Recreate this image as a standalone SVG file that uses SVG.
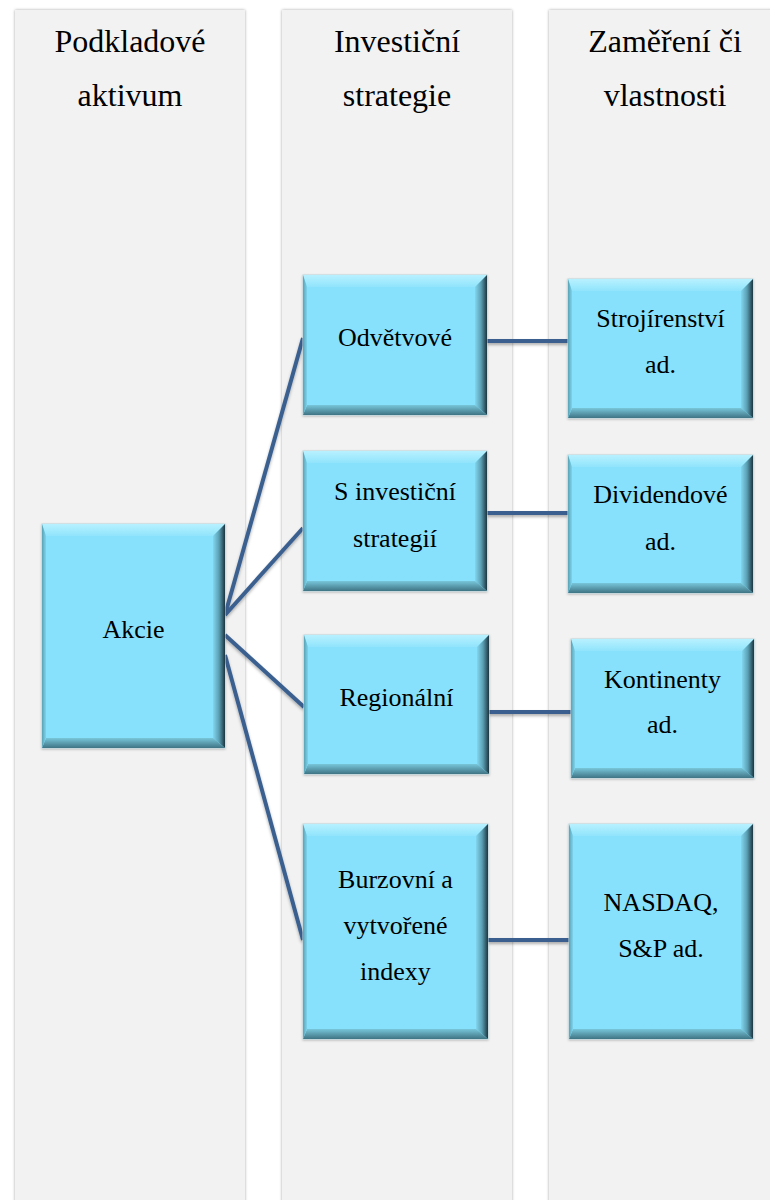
<svg xmlns="http://www.w3.org/2000/svg" width="770" height="1200" viewBox="0 0 770 1200">
<defs>
<filter id="colsh" x="-5%" y="-5%" width="110%" height="110%">
<feDropShadow dx="0" dy="0" stdDeviation="1.6" flood-color="#000" flood-opacity="0.35"/>
</filter>
<filter id="boxsh" x="-5%" y="-5%" width="110%" height="110%">
<feDropShadow dx="0" dy="1" stdDeviation="1.2" flood-color="#000" flood-opacity="0.25"/>
</filter>
<filter id="linesh" x="-10%" y="-50%" width="120%" height="200%">
<feDropShadow dx="0" dy="2" stdDeviation="1.5" flood-color="#000" flood-opacity="0.3"/>
</filter>
<linearGradient id="gTop" x1="0" y1="0" x2="0" y2="1">
<stop offset="0" stop-color="#b8f1ff"/>
<stop offset="1" stop-color="#90e4fc"/>
</linearGradient>
<linearGradient id="gRight" x1="0" y1="0" x2="1" y2="0">
<stop offset="0" stop-color="#82d6ee"/>
<stop offset="0.5" stop-color="#5a9fb3"/>
<stop offset="1" stop-color="#1c3641"/>
</linearGradient>
<linearGradient id="gBottom" x1="0" y1="0" x2="0" y2="1">
<stop offset="0" stop-color="#78c6da"/>
<stop offset="1" stop-color="#3f7484"/>
</linearGradient>
<linearGradient id="gLeft" x1="0" y1="0" x2="1" y2="0">
<stop offset="0" stop-color="#5aa3b6"/>
<stop offset="1" stop-color="#7ed3ec"/>
</linearGradient>
</defs>
<style>
.col{fill:#f2f2f2;filter:url(#colsh)}
.hdr{font-family:"Liberation Serif","Times New Roman",serif;font-size:32px;fill:#000;text-anchor:middle}
.lbl{font-family:"Liberation Serif","Times New Roman",serif;font-size:26px;fill:#000;text-anchor:middle}
.face{fill:#88e1fc;stroke:#b9d3dc;stroke-width:1;filter:url(#boxsh)}
.bt{fill:url(#gTop)}
.br{fill:url(#gRight)}
.bb{fill:url(#gBottom)}
.bl{fill:url(#gLeft)}
.conn line{stroke:#3a6190;stroke-width:4;fill:none}
</style>
<rect width="770" height="1200" fill="#ffffff"/>

<g id="columns">
<rect class="col" x="15" y="10" width="230" height="1210"/>
<rect class="col" x="282" y="10" width="230" height="1210"/>
<rect class="col" x="549" y="10" width="232" height="1210"/>
<text class="hdr" x="130" y="52">Podkladové</text>
<text class="hdr" x="130" y="106">aktivum</text>
<text class="hdr" x="397" y="52">Investiční</text>
<text class="hdr" x="397" y="106">strategie</text>
<text class="hdr" x="665" y="52">Zaměření či</text>
<text class="hdr" x="665" y="106">vlastnosti</text>
</g>

<g id="connectors" class="conn" filter="url(#linesh)">
<line x1="225" y1="615" x2="303" y2="338"/>
<line x1="225" y1="615" x2="303" y2="528"/>
<line x1="225" y1="635" x2="304" y2="707"/>
<line x1="225" y1="655" x2="303" y2="940"/>
<line x1="487" y1="341" x2="568" y2="341"/>
<line x1="487" y1="513" x2="568" y2="513"/>
<line x1="489" y1="712" x2="571" y2="712"/>
<line x1="488" y1="940" x2="569" y2="940"/>
</g>

<g id="node-akcie">
<rect class="face" x="42" y="524" width="183" height="224"/>
<polygon class="bt" points="42,524 225,524 213,536 46,536"/>
<polygon class="br" points="225,524 225,748 213,738 213,536"/>
<polygon class="bb" points="42,748 225,748 213,738 46,738"/>
<polygon class="bl" points="42,524 46,536 46,738 42,748"/>
<text class="lbl" x="133.5" y="638">Akcie</text>
</g>

<g id="node-odvetvove">
<rect class="face" x="303" y="275" width="184" height="140"/>
<polygon class="bt" points="303,275 487,275 475,287 307,287"/>
<polygon class="br" points="487,275 487,415 475,405 475,287"/>
<polygon class="bb" points="303,415 487,415 475,405 307,405"/>
<polygon class="bl" points="303,275 307,287 307,405 303,415"/>
<text class="lbl" x="395" y="346">Odvětvové</text>
</g>

<g id="node-strategii">
<rect class="face" x="303" y="451" width="184" height="140"/>
<polygon class="bt" points="303,451 487,451 475,463 307,463"/>
<polygon class="br" points="487,451 487,591 475,581 475,463"/>
<polygon class="bb" points="303,591 487,591 475,581 307,581"/>
<polygon class="bl" points="303,451 307,463 307,581 303,591"/>
<text class="lbl" x="395" y="500">S investiční</text>
<text class="lbl" x="395" y="547">strategií</text>
</g>

<g id="node-regionalni">
<rect class="face" x="304" y="635" width="185" height="139"/>
<polygon class="bt" points="304,635 489,635 477,647 308,647"/>
<polygon class="br" points="489,635 489,774 477,764 477,647"/>
<polygon class="bb" points="304,774 489,774 477,764 308,764"/>
<polygon class="bl" points="304,635 308,647 308,764 304,774"/>
<text class="lbl" x="396.5" y="706">Regionální</text>
</g>

<g id="node-burzovni">
<rect class="face" x="303" y="824" width="185" height="215"/>
<polygon class="bt" points="303,824 488,824 476,836 307,836"/>
<polygon class="br" points="488,824 488,1039 476,1029 476,836"/>
<polygon class="bb" points="303,1039 488,1039 476,1029 307,1029"/>
<polygon class="bl" points="303,824 307,836 307,1029 303,1039"/>
<text class="lbl" x="395.5" y="888">Burzovní a</text>
<text class="lbl" x="395.5" y="934">vytvořené</text>
<text class="lbl" x="395.5" y="980">indexy</text>
</g>

<g id="node-strojirenstvi">
<rect class="face" x="568" y="279" width="185" height="139"/>
<polygon class="bt" points="568,279 753,279 741,291 572,291"/>
<polygon class="br" points="753,279 753,418 741,408 741,291"/>
<polygon class="bb" points="568,418 753,418 741,408 572,408"/>
<polygon class="bl" points="568,279 572,291 572,408 568,418"/>
<text class="lbl" x="660.5" y="327">Strojírenství</text>
<text class="lbl" x="660.5" y="373">ad.</text>
</g>

<g id="node-dividendove">
<rect class="face" x="568" y="455" width="185" height="138"/>
<polygon class="bt" points="568,455 753,455 741,467 572,467"/>
<polygon class="br" points="753,455 753,593 741,583 741,467"/>
<polygon class="bb" points="568,593 753,593 741,583 572,583"/>
<polygon class="bl" points="568,455 572,467 572,583 568,593"/>
<text class="lbl" x="660.5" y="503">Dividendové</text>
<text class="lbl" x="660.5" y="550">ad.</text>
</g>

<g id="node-kontinenty">
<rect class="face" x="571" y="639" width="183" height="139"/>
<polygon class="bt" points="571,639 754,639 742,651 575,651"/>
<polygon class="br" points="754,639 754,778 742,768 742,651"/>
<polygon class="bb" points="571,778 754,778 742,768 575,768"/>
<polygon class="bl" points="571,639 575,651 575,768 571,778"/>
<text class="lbl" x="662.5" y="688">Kontinenty</text>
<text class="lbl" x="662.5" y="733">ad.</text>
</g>

<g id="node-nasdaq">
<rect class="face" x="569" y="824" width="184" height="215"/>
<polygon class="bt" points="569,824 753,824 741,836 573,836"/>
<polygon class="br" points="753,824 753,1039 741,1029 741,836"/>
<polygon class="bb" points="569,1039 753,1039 741,1029 573,1029"/>
<polygon class="bl" points="569,824 573,836 573,1029 569,1039"/>
<text class="lbl" x="661" y="911">NASDAQ,</text>
<text class="lbl" x="661" y="957">S&amp;P ad.</text>
</g>
</svg>
